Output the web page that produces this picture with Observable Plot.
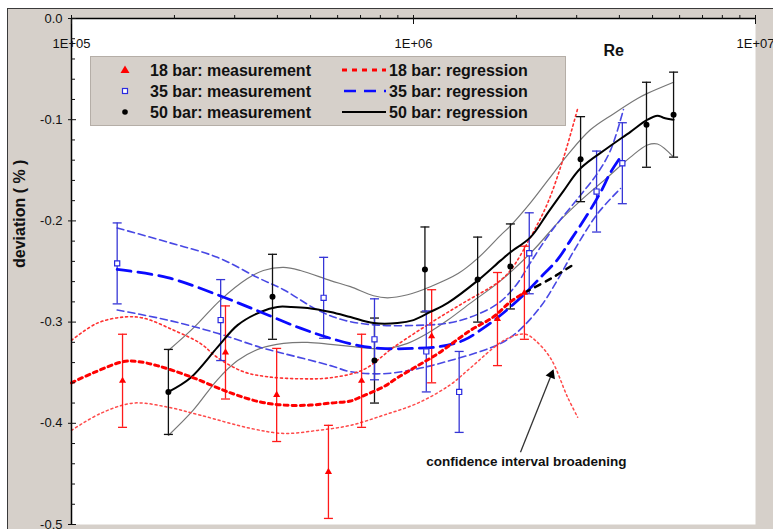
<!DOCTYPE html>
<html><head><meta charset="utf-8">
<script src="https://cdn.jsdelivr.net/npm/d3@7"></script>
<script src="https://cdn.jsdelivr.net/npm/@observablehq/plot@0.6"></script>
<style>
body{margin:0;background:#fff;font-family:"Liberation Sans",Arial,sans-serif;}
#wrap{position:relative;width:773px;height:529px;overflow:hidden;background:#fff;}
#chart{position:absolute;left:7px;top:8px;}
#chart svg{border-top:1px solid #3a3a3a;border-left:1px solid #3a3a3a;display:block;}
#legend{position:absolute;left:90px;top:56px;}
</style></head><body><div id="wrap"><div id="chart"></div><div id="legend"></div></div>
<script>
// ---------- axis ticks ----------
const xMajor = [1e5, 1e6, 1e7];
const xLabels = ["1E+05", "1E+06", "1E+07"];
const xMinor = [2e5,3e5,4e5,5e5,6e5,7e5,8e5,9e5,2e6,3e6,4e6,5e6,6e6,7e6,8e6,9e6];
const yMajor = [0, -0.1, -0.2, -0.3, -0.4, -0.5];
const yLabels = ["0.0", "-0.1", "-0.2", "-0.3", "-0.4", "-0.5"];
const yMinor = [-0.02,-0.04,-0.06,-0.08,-0.12,-0.14,-0.16,-0.18,-0.22,-0.24,-0.26,-0.28,-0.32,-0.34,-0.36,-0.38,-0.42,-0.44,-0.46,-0.48];

// ---------- measurements ----------
const re18  = [1.41e5, 2.82e5, 3.98e5, 5.64e5, 7.05e5, 1.13e6, 1.76e6, 2.11e6];
const dev18 = [-0.358, -0.330, -0.372, -0.448, -0.358, -0.314, -0.297, -0.271];
const err18 = [0.046, 0.046, 0.046, 0.046, 0.046, 0.046, 0.046, 0.046];

const re35  = [1.36e5, 2.73e5, 5.46e5, 7.69e5, 1.09e6, 1.36e6, 2.18e6, 3.43e6, 4.08e6];
const dev35 = [-0.242, -0.298, -0.276, -0.317, -0.329, -0.369, -0.232, -0.171, -0.143];
const err35 = [0.040, 0.040, 0.040, 0.040, 0.040, 0.040, 0.040, 0.040, 0.040];

const re50  = [1.92e5, 3.87e5, 7.69e5, 1.08e6, 1.54e6, 1.92e6, 3.08e6, 4.80e6, 5.76e6];
const dev50 = [-0.369, -0.275, -0.338, -0.248, -0.258, -0.245, -0.139, -0.105, -0.095];
const err50 = [0.042, 0.042, 0.042, 0.042, 0.042, 0.042, 0.042, 0.042, 0.042];

// ---------- regressions [Re, deviation] ----------
const fit18 = [[1.00e5,-0.360],[1.16e5,-0.350],[1.42e5,-0.339],[1.56e5,-0.339],[1.78e5,-0.343],[2.23e5,-0.354],[2.92e5,-0.370],[3.57e5,-0.379],[4.17e5,-0.382],[5.00e5,-0.382],[5.72e5,-0.380],[6.54e5,-0.378],[7.00e5,-0.374],[8.17e5,-0.364],[8.98e5,-0.355],[1.03e6,-0.343],[1.18e6,-0.331],[1.47e6,-0.308],[1.71e6,-0.295],[1.92e6,-0.280],[2.11e6,-0.271]];
const fit18ext = [[2.11e6,-0.271],[2.52e6,-0.257],[2.94e6,-0.243]];
const up18 = [[1.00e5,-0.318],[1.19e5,-0.301],[1.42e5,-0.295],[1.62e5,-0.296],[1.99e5,-0.308],[2.38e5,-0.321],[2.67e5,-0.335],[3.18e5,-0.349],[3.74e5,-0.354],[4.67e5,-0.356],[5.72e5,-0.355],[7.14e5,-0.347],[8.74e5,-0.325],[1.12e6,-0.301],[1.40e6,-0.281],[1.76e6,-0.261],[1.92e6,-0.249],[2.20e6,-0.216],[2.47e6,-0.182],[2.75e6,-0.137],[3.02e6,-0.089]];
const lo18 = [[1.00e5,-0.407],[1.22e5,-0.390],[1.52e5,-0.380],[1.91e5,-0.384],[2.38e5,-0.392],[3.34e5,-0.405],[4.17e5,-0.410],[5.24e5,-0.407],[6.54e5,-0.402],[8.17e5,-0.392],[1.03e6,-0.380],[1.28e6,-0.362],[1.47e6,-0.345],[1.80e6,-0.320],[1.99e6,-0.313],[2.13e6,-0.312],[2.27e6,-0.318],[2.52e6,-0.336],[2.82e6,-0.374],[3.02e6,-0.394]];

const fit35 = [[1.36e5,-0.248],[1.91e5,-0.256],[2.67e5,-0.273],[3.57e5,-0.290],[4.67e5,-0.306],[5.72e5,-0.316],[6.86e5,-0.323],[8.01e5,-0.326],[1.00e6,-0.326],[1.20e6,-0.324],[1.40e6,-0.318],[1.60e6,-0.306],[1.80e6,-0.293],[2.10e6,-0.273],[2.35e6,-0.256],[2.64e6,-0.238],[2.88e6,-0.219],[3.18e6,-0.197],[3.52e6,-0.172],[3.77e6,-0.152],[4.03e6,-0.137]];
const up35 = [[1.36e5,-0.207],[1.91e5,-0.221],[2.67e5,-0.236],[3.50e5,-0.256],[4.17e5,-0.268],[5.24e5,-0.288],[6.24e5,-0.298],[7.85e5,-0.303],[1.07e6,-0.303],[1.26e6,-0.301],[1.47e6,-0.295],[1.76e6,-0.282],[1.99e6,-0.264],[2.20e6,-0.241],[2.52e6,-0.211],[3.02e6,-0.178],[3.45e6,-0.153],[3.77e6,-0.130],[4.11e6,-0.090]];
const lo35 = [[1.36e5,-0.288],[1.91e5,-0.298],[2.67e5,-0.311],[3.57e5,-0.325],[4.17e5,-0.331],[5.72e5,-0.343],[6.54e5,-0.349],[8.17e5,-0.351],[1.03e6,-0.346],[1.28e6,-0.338],[1.60e6,-0.328],[1.80e6,-0.321],[2.01e6,-0.310],[2.35e6,-0.285],[2.64e6,-0.258],[2.94e6,-0.230],[3.45e6,-0.193],[4.03e6,-0.168]];

const fit50 = [[1.92e5,-0.369],[2.23e5,-0.355],[2.67e5,-0.325],[3.06e5,-0.303],[3.57e5,-0.290],[4.00e5,-0.285],[4.37e5,-0.285],[4.90e5,-0.286],[5.72e5,-0.290],[6.54e5,-0.295],[7.64e5,-0.301],[8.98e5,-0.301],[1.00e6,-0.298],[1.12e6,-0.290],[1.26e6,-0.281],[1.54e6,-0.259],[1.80e6,-0.239],[1.92e6,-0.231],[2.20e6,-0.216],[2.47e6,-0.192],[2.75e6,-0.170],[3.08e6,-0.148],[3.69e6,-0.128],[4.31e6,-0.112],[4.83e6,-0.100],[5.17e6,-0.096],[5.38e6,-0.098],[5.76e6,-0.100]];
const up50 = [[1.92e5,-0.328],[2.27e5,-0.306],[2.73e5,-0.278],[3.27e5,-0.257],[3.64e5,-0.249],[4.17e5,-0.246],[4.67e5,-0.249],[5.72e5,-0.259],[6.54e5,-0.265],[7.64e5,-0.274],[8.40e5,-0.276],[9.61e5,-0.273],[1.12e6,-0.265],[1.35e6,-0.252],[1.54e6,-0.237],[1.80e6,-0.214],[1.92e6,-0.205],[2.20e6,-0.182],[2.47e6,-0.160],[2.82e6,-0.135],[3.29e6,-0.110],[3.85e6,-0.094],[4.52e6,-0.079],[4.83e6,-0.074],[5.76e6,-0.063]];
const lo50 = [[1.92e5,-0.412],[2.27e5,-0.387],[2.67e5,-0.357],[3.06e5,-0.338],[3.57e5,-0.326],[4.17e5,-0.321],[4.90e5,-0.320],[5.72e5,-0.322],[6.54e5,-0.324],[7.49e5,-0.326],[8.40e5,-0.326],[9.61e5,-0.321],[1.10e6,-0.311],[1.26e6,-0.298],[1.47e6,-0.281],[1.80e6,-0.259],[2.24e6,-0.229],[2.64e6,-0.202],[3.08e6,-0.180],[3.69e6,-0.157],[4.31e6,-0.137],[4.83e6,-0.125],[5.17e6,-0.124],[5.76e6,-0.137]];

// ---------- annotation ----------
const noteText = "confidence interval broadening";
const notePos = [1.09e6, -0.438];
const arrowTail = [2.055e6, -0.4286];
const arrowHead = [2.53e6, -0.352];
const xTitle = "Re", xTitlePos = 3.85e6;
const yTitle = "deviation ( % )";
const legendItems = ["18 bar: measurement", "35 bar: measurement", "50 bar: measurement",
                     "18 bar: regression", "35 bar: regression", "50 bar: regression"];

// ---------- build ----------
const rows = (re, dev, err) => re.map((r, i) => ({re: r, dev: dev[i], err: err[i]}));
const m18 = rows(re18, dev18, err18), m35 = rows(re35, dev35, err35), m50 = rows(re50, dev50, err50);
const cap = {draw(ctx, size) { const r = Math.sqrt(size / Math.PI); ctx.moveTo(-r, 0); ctx.lineTo(r, 0); }};
const X = d => d[0], Y = d => d[1];
const font = "'Liberation Sans', Arial, sans-serif";

function errMarks(data, color) {
  return [
    Plot.ruleX(data, {x: "re", y1: d => d.dev - d.err, y2: d => d.dev + d.err, stroke: color, strokeWidth: 1.3}),
    Plot.dot(data, {x: "re", y: d => d.dev - d.err, symbol: cap, r: 4.5, stroke: color, fill: "none", strokeWidth: 1.3}),
    Plot.dot(data, {x: "re", y: d => d.dev + d.err, symbol: cap, r: 4.5, stroke: color, fill: "none", strokeWidth: 1.3})
  ];
}

const chart = Plot.plot({
  width: 765, height: 520,
  marginLeft: 63, marginTop: 9, marginRight: 18, marginBottom: 5,
  style: {background: "#d6d0ca", fontFamily: font, color: "#111", overflow: "visible"},
  x: {type: "log", domain: [1e5, 1e7]},
  y: {domain: [-0.5, 0]},
  marks: [
    Plot.frame({fill: "white", stroke: null}),
    // 50 bar bands & fit
    Plot.line(up50, {x: X, y: Y, stroke: "#777", strokeWidth: 1.2, curve: "catmull-rom"}),
    Plot.line(lo50, {x: X, y: Y, stroke: "#777", strokeWidth: 1.2, curve: "catmull-rom"}),
    // 35 bar bands
    Plot.line(up35, {x: X, y: Y, stroke: "#4848e4", strokeWidth: 1.6, strokeDasharray: "7,4", curve: "catmull-rom"}),
    Plot.line(lo35, {x: X, y: Y, stroke: "#4848e4", strokeWidth: 1.6, strokeDasharray: "7,4", curve: "catmull-rom"}),
    // 18 bar bands
    Plot.line(up18, {x: X, y: Y, stroke: "#ff3030", strokeWidth: 1.6, strokeDasharray: "2,3", curve: "catmull-rom"}),
    Plot.line(lo18, {x: X, y: Y, stroke: "#ff4a4a", strokeWidth: 1.5, strokeDasharray: "2,3", curve: "catmull-rom"}),
    // error bars
    ...errMarks(m50, "#111"),
    ...errMarks(m35, "#3636d6"),
    ...errMarks(m18, "#ff1a1a"),
    // main fits
    Plot.line(fit50, {x: X, y: Y, stroke: "#000", strokeWidth: 2, curve: "catmull-rom"}),
    Plot.line(fit35, {x: X, y: Y, stroke: "#0a0aff", strokeWidth: 2.8, strokeDasharray: "14,7", curve: "catmull-rom"}),
    Plot.line(fit18, {x: X, y: Y, stroke: "#ff0000", strokeWidth: 3, strokeDasharray: "4,4", curve: "catmull-rom"}),
    Plot.line(fit18ext, {x: X, y: Y, stroke: "#000", strokeWidth: 2.5, strokeDasharray: "6,6", curve: "catmull-rom"}),
    // measurement markers
    Plot.dot(m50, {x: "re", y: "dev", r: 3, fill: "#000", stroke: "none"}),
    Plot.dot(m35, {x: "re", y: "dev", symbol: "square", r: 2.9, fill: "white", stroke: "#2a2ae0", strokeWidth: 1.2}),
    Plot.dot(m18, {x: "re", y: "dev", symbol: "triangle2", r: 3.4, fill: "#ff0000", stroke: "none"}),
    // axes
    Plot.ruleX([xMajor[0]], {stroke: "#000", strokeWidth: 1.5}),
    Plot.ruleY([yMajor[0]], {stroke: "#000", strokeWidth: 1.5}),
    Plot.axisX({anchor: "top", ticks: xMinor, tickSize: 4, tickFormat: () => "", label: null}),
    Plot.axisX({anchor: "top", ticks: xMajor, tickSize: 9, dy: 5, tickFormat: () => "", label: null}),
    Plot.text(xMajor, {x: d => d, text: (d, i) => xLabels[i], frameAnchor: "top", dy: 20, fontSize: 13, fill: "#111"}),
    Plot.axisY({anchor: "left", ticks: yMinor, tickSize: 4, dx: 4, tickFormat: () => "", label: null}),
    Plot.axisY({anchor: "left", ticks: yMajor, tickSize: 8, dx: 5, tickFormat: () => "", label: null}),
    Plot.axisY({anchor: "left", ticks: yMajor, tickSize: 0, tickPadding: 9, tickFormat: d => yLabels[yMajor.indexOf(d)], fontSize: 13, label: null}),
    Plot.text([xTitle], {x: xTitlePos, frameAnchor: "top", dy: 26, fontSize: 16, fontWeight: "bold", fill: "#111"}),
    Plot.text([yTitle], {frameAnchor: "left", dx: -51.5, dy: -3.5, rotate: -90, fontSize: 16, fontWeight: "bold", fill: "#111"}),
    // annotation
    Plot.link([0], {x1: arrowTail[0], y1: arrowTail[1], x2: arrowHead[0], y2: arrowHead[1], stroke: "#333", strokeWidth: 1.3}),
    Plot.dot([0], {x: arrowHead[0], y: arrowHead[1], symbol: "triangle2", r: 4.8, rotate: 22, fill: "#000", stroke: "none"}),
    Plot.text([noteText], {x: notePos[0], y: notePos[1], textAnchor: "start", fontSize: 13.5, fontWeight: "bold", fill: "#111"})
  ]
});
document.getElementById("chart").appendChild(chart);

// ---------- legend ----------
const ns = "http://www.w3.org/2000/svg";
const lg = document.createElementNS(ns, "svg");
lg.setAttribute("width", 476); lg.setAttribute("height", 70);
lg.style.display = "block";
let html = `<rect x="0.5" y="0.5" width="475" height="69" fill="#d6d0ca" stroke="#b5aea7"/>`;
const rowsY = [14, 35, 56];
// markers
html += `<path d="M35,${rowsY[0]-4.5} L39.5,${rowsY[0]+3} L30.5,${rowsY[0]+3} Z" fill="#ff0000"/>`;
html += `<rect x="32.5" y="${rowsY[1]-2.5}" width="5" height="5" fill="white" stroke="#2a2ae0" stroke-width="1.2"/>`;
html += `<circle cx="35" cy="${rowsY[2]}" r="2.8" fill="#000"/>`;
// line samples
html += `<line x1="252" x2="296" y1="${rowsY[0]}" y2="${rowsY[0]}" stroke="#ff0000" stroke-width="3" stroke-dasharray="5,5"/>`;
html += `<line x1="254" x2="296" y1="${rowsY[1]}" y2="${rowsY[1]}" stroke="#0a0aff" stroke-width="2.6" stroke-dasharray="12,8"/>`;
html += `<line x1="252" x2="296" y1="${rowsY[2]}" y2="${rowsY[2]}" stroke="#000" stroke-width="2"/>`;
legendItems.forEach((t, i) => {
  const x = i < 3 ? 60 : 299, y = rowsY[i % 3];
  html += `<text x="${x}" y="${y}" dy="0.36em" font-family="${font.replace(/'/g, "")}" font-size="16" font-weight="bold" fill="#111">${t}</text>`;
});
lg.innerHTML = html;
document.getElementById("legend").appendChild(lg);
</script></body></html>
